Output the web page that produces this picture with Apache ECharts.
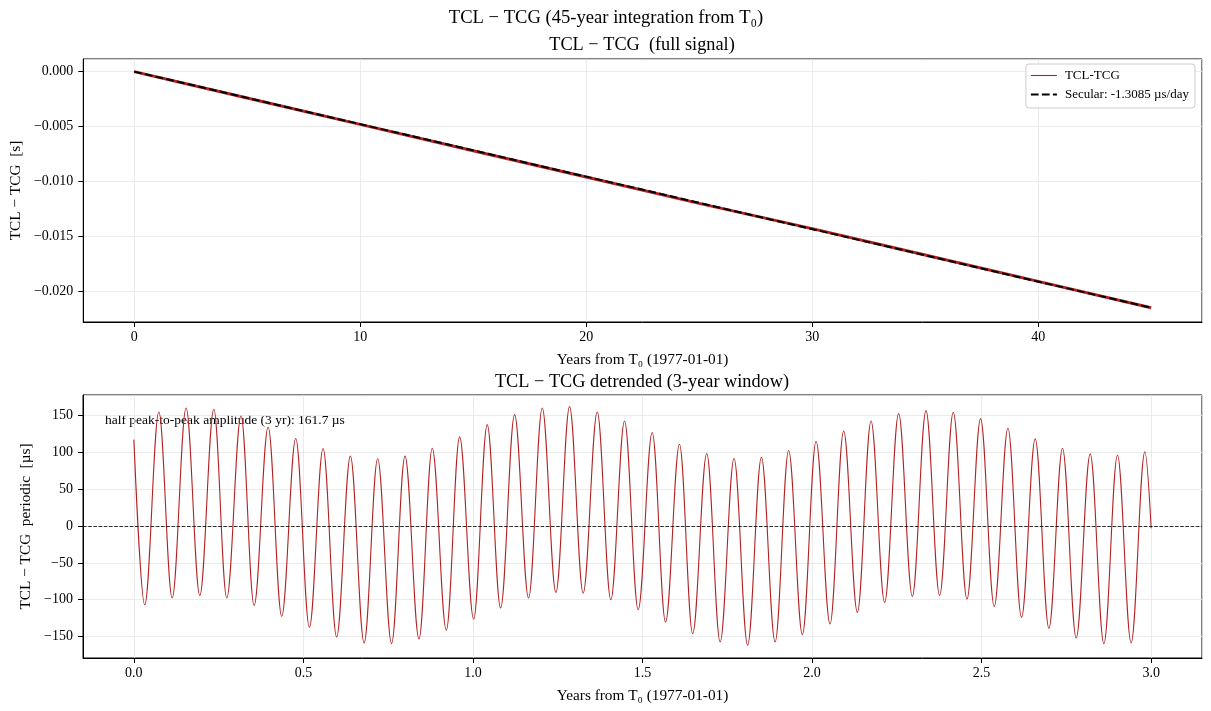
<!DOCTYPE html>
<html>
<head>
<meta charset="utf-8">
<script src="https://cdn.jsdelivr.net/npm/echarts@6/dist/echarts.min.js"></script>
<style>
  html, body { margin: 0; padding: 0; background: #fff; }
  #chart { width: 1211px; height: 711px; }
</style>
</head>
<body>
<div id="chart"></div>
<script>
// full signal, years from T0 vs TCL-TCG [s]
const fullYears = [0, 5, 10, 15, 20, 25, 30, 35, 40, 45];
const fullValues = [0.0, -0.0024, -0.0048, -0.0072, -0.0096, -0.0120, -0.0143, -0.0167, -0.0191, -0.0215];
const secularYears = [0, 45];
const secularValues = [0.0, -0.02151];

// detrended 3-year window: turning points (years, µs)
const detrYears = [
  0, 0.032, 0.0737, 0.113, 0.154, 0.1945, 0.2358, 0.274, 0.316, 0.3546,
  0.396, 0.436, 0.4774, 0.5177, 0.558, 0.598, 0.6385, 0.679, 0.719, 0.760,
  0.7996, 0.8408, 0.880, 0.9214, 0.9607, 1.002, 1.042, 1.0816, 1.1228, 1.164,
  1.2044, 1.2446, 1.2849, 1.325, 1.3665, 1.4066, 1.447, 1.4873, 1.5286, 1.568,
  1.609, 1.648, 1.6895, 1.729, 1.770, 1.810, 1.8507, 1.891, 1.931, 1.9715,
  2.0119, 2.053, 2.0933, 2.1336, 2.174, 2.214, 2.2554, 2.2957, 2.336, 2.3762,
  2.4165, 2.4569, 2.497, 2.5373, 2.5777, 2.6178, 2.6581, 2.6985, 2.7386, 2.779,
  2.8203, 2.8606, 2.9007, 2.941, 2.9814, 3.0
];
const detrValues = [
  117, -106.8, 154.5, -97.7, 159.9, -94.2, 158.1, -97.7, 149.1, -107.7,
  134.2, -122.5, 118.5, -137.4, 105.0, -150.4, 94.6, -158.5, 91.0, -159.5,
  94.6, -153.1, 105.4, -141.4, 120.7, -126.1, 137.4, -111.3, 150.9, -97.7,
  159.9, -90.1, 161.7, -91.0, 154.5, -100.0, 142.3, -113.5, 126.6, -130.2,
  110.8, -146.0, 98.2, -157.2, 91.4, -161.7, 93.2, -157.2, 102.3, -147.3,
  114.9, -132.9, 128.8, -117.1, 142.3, -103.6, 152.3, -95.5, 156.3, -94.2,
  154.1, -99.1, 145.5, -109.0, 132.4, -123.9, 118.0, -138.7, 105.4, -151.8,
  97.7, -159.5, 95.9, -158.5, 100.4, -3.1
];

const FONT = '"Liberation Serif", "DejaVu Serif", serif';
const RED = '#b22222';
const GRID_COLOR = '#e6e6e6';

function pairs(xs, ys) {
  return xs.map((x, i) => [x, ys[i]]);
}

function minus(s) {
  return String(s).replace('-', '\u2212');
}

function baseAxis(extra) {
  return Object.assign({
    type: 'value',
    axisLine: { show: true, onZero: false, lineStyle: { color: '#000', width: 1 } },
    axisTick: { show: true, length: 5, lineStyle: { color: '#000', width: 1 } },
    splitLine: { show: true, lineStyle: { color: GRID_COLOR, width: 0.8 } },
    nameTextStyle: { fontFamily: FONT, fontSize: 15.3, color: '#000' },
    nameLocation: 'middle'
  }, extra);
}

function labels(margin, fmt) {
  return {
    margin: margin,
    fontFamily: FONT,
    fontSize: 14,
    color: '#000',
    showMinLabel: false,
    showMaxLabel: false,
    formatter: fmt
  };
}

const chart = echarts.init(document.getElementById('chart'));

chart.setOption({
  animation: false,
  backgroundColor: '#fff',
  grid: [
    { left: 83, top: 59, width: 1119, height: 263, show: true, borderColor: '#000', borderWidth: 1, backgroundColor: 'transparent' },
    { left: 83, top: 395, width: 1119, height: 263, show: true, borderColor: '#000', borderWidth: 1, backgroundColor: 'transparent' }
  ],
  xAxis: [
    baseAxis({
      gridIndex: 0, min: -2.25, max: 47.25, splitNumber: 5,
      name: 'Years from T\u2080 (1977-01-01)', nameGap: 30,
      axisLabel: labels(8, (v) => minus(Math.round(v)))
    }),
    baseAxis({
      gridIndex: 1, min: -0.15, max: 3.15, splitNumber: 5,
      name: 'Years from T\u2080 (1977-01-01)', nameGap: 30,
      axisLabel: labels(8, (v) => minus(v.toFixed(1)))
    })
  ],
  yAxis: [
    baseAxis({
      gridIndex: 0, min: -0.0228, max: 0.00115, splitNumber: 5,
      name: 'TCL \u2212 TCG  [s]', nameGap: 60,
      axisLabel: labels(10, (v) => minus(v.toFixed(3)))
    }),
    baseAxis({
      gridIndex: 1, min: -179, max: 177.5, splitNumber: 7,
      name: 'TCL \u2212 TCG  periodic  [\u00b5s]', nameGap: 49,
      axisLabel: labels(10, (v) => minus(Math.round(v)))
    })
  ],
  legend: {
    data: [
      { name: 'TCL-TCG', itemStyle: { opacity: 0 }, lineStyle: { width: 1.1 } },
      { name: 'Secular: -1.3085 \u00b5s/day', itemStyle: { opacity: 0 } }
    ],
    orient: 'vertical',
    right: 16,
    top: 64,
    padding: [5, 6, 7, 4],
    itemWidth: 26,
    itemHeight: 12,
    itemGap: 6,
    backgroundColor: 'rgba(255,255,255,0.85)',
    borderColor: '#cccccc',
    borderWidth: 1,
    borderRadius: 3,
    textStyle: { fontFamily: FONT, fontSize: 13, color: '#000', padding: [0, 0, 0, 3] }
  },
  graphic: [
    {
      type: 'text', x: 606, y: 18,
      style: { text: 'TCL \u2212 TCG (45-year integration from T\u2080)', font: '18.6px ' + FONT, fill: '#000', align: 'center', verticalAlign: 'middle' }
    },
    {
      type: 'text', x: 642, y: 45,
      style: { text: 'TCL \u2212 TCG  (full signal)', font: '18.3px ' + FONT, fill: '#000', align: 'center', verticalAlign: 'middle' }
    },
    {
      type: 'text', x: 642, y: 382,
      style: { text: 'TCL \u2212 TCG detrended (3-year window)', font: '18.3px ' + FONT, fill: '#000', align: 'center', verticalAlign: 'middle' }
    },
    {
      type: 'text', x: 105, y: 420,
      style: { text: 'half peak-to-peak amplitude (3 yr): 161.7 \u00b5s', font: '13.5px ' + FONT, fill: '#000', align: 'left', verticalAlign: 'middle' }
    }
  ],
  series: [
    {
      name: 'TCL-TCG',
      type: 'line',
      xAxisIndex: 0, yAxisIndex: 0,
      data: pairs(fullYears, fullValues),
      showSymbol: false, symbol: 'none',
      lineStyle: { color: RED, width: 3 },
      itemStyle: { color: RED }
    },
    {
      name: 'Secular: -1.3085 \u00b5s/day',
      type: 'line',
      xAxisIndex: 0, yAxisIndex: 0,
      data: pairs(secularYears, secularValues),
      showSymbol: false, symbol: 'none',
      lineStyle: { color: '#000', width: 2, type: [7.7, 3.3] },
      itemStyle: { color: '#000' }
    },
    {
      name: 'detrended',
      type: 'line',
      xAxisIndex: 1, yAxisIndex: 1,
      data: pairs(detrYears, detrValues),
      showSymbol: false, symbol: 'none',
      smooth: 0.36,
      smoothMonotone: 'x',
      lineStyle: { color: RED, width: 1.1 },
      itemStyle: { color: RED },
      markLine: {
        silent: true,
        symbol: 'none',
        label: { show: false },
        lineStyle: { color: '#000', width: 0.8, type: [3.6, 1.6] },
        data: [{ yAxis: 0 }]
      }
    }
  ]
});
</script>
</body>
</html>
